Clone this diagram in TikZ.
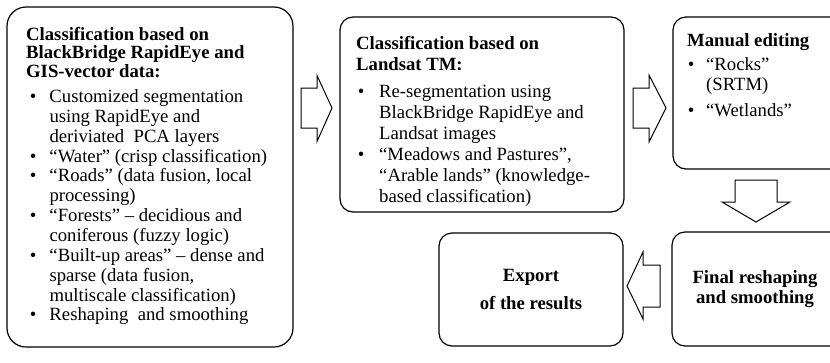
\documentclass[tikz,border=0pt]{standalone}
\usepackage{fontspec}
\setmainfont{Liberation Serif}
\newcommand\bitem[2]{\hbox{\hbox to #1{\textbullet\hss}#2}}
\newcommand\citem[2]{\hbox{\kern#1\relax #2}}
\begin{document}
\begin{tikzpicture}[x=1pt,y=-1pt,
  box/.style={draw, line width=1.2pt, inner sep=0pt, rounded corners=13pt},
  txt/.style={inner sep=0pt, anchor=base west, font=\fontsize{18.7}{20}\selectfont},
  ctxt/.style={inner sep=0pt, anchor=base, font=\fontsize{18.7}{20}\selectfont\bfseries},
  blockarrow/.style={draw, line width=1pt, line join=miter}
]
\useasboundingbox (0,0) rectangle (830,362);
\clip (0,0) rectangle (830,362);

% boxes
\node[box, rounded corners=19pt, minimum width=286pt, minimum height=340pt] (b1) at (150,177) {};
\node[box, minimum width=284pt, minimum height=195pt] (b2) at (482,114.5) {};
\node[box, minimum width=190pt, minimum height=152pt] (b3) at (768,93) {};
\node[box, minimum width=190pt, minimum height=114pt] (b4) at (767,289) {};
\node[box, minimum width=184pt, minimum height=113pt] (b5) at (531,289.5) {};

% box 1 text
\node[txt, font=\fontsize{18.7}{20}\selectfont\bfseries] (t1) at (26,40) {\vtop{\baselineskip=18.5pt
  \hbox{Classification based on}\hbox{BlackBridge RapidEye and}\hbox{GIS-vector data:}}};
\node[txt] (l1) at (29.7,102.5) {\vtop{\baselineskip=19.85pt
  \bitem{19.6pt}{Customized segmentation}
  \citem{19.6pt}{using RapidEye and}
  \citem{19.6pt}{deriviated\ \ PCA layers}
  \bitem{19.6pt}{“Water” (crisp classification)}
  \bitem{19.6pt}{“Roads” (data fusion, local}
  \citem{19.6pt}{processing)}
  \bitem{19.6pt}{“Forests” – decidious and}
  \citem{19.6pt}{coniferous (fuzzy logic)}
  \bitem{19.6pt}{“Built-up areas” – dense and}
  \citem{19.6pt}{sparse (data fusion,}
  \citem{19.6pt}{multiscale classification)}
  \bitem{19.6pt}{Reshaping\ \ and smoothing}}};

% box 2 text
\node[txt, font=\fontsize{18.7}{20}\selectfont\bfseries] (t2) at (356,49.3) {\vtop{\baselineskip=20.7pt
  \hbox{Classification based on}\hbox{Landsat TM:}}};
\node[txt] (l2) at (357.7,97) {\vtop{\baselineskip=21pt
  \bitem{21.3pt}{Re-segmentation using}
  \citem{21.3pt}{BlackBridge RapidEye and}
  \citem{21.3pt}{Landsat images}
  \bitem{21.3pt}{“Meadows and Pastures”,}
  \citem{21.3pt}{“Arable lands” (knowledge-}
  \citem{21.3pt}{based classification)}}};

% box 3 text
\node[txt, font=\fontsize{18.7}{20}\selectfont\bfseries] (t3) at (687,46) {Manual editing};
\node[txt] (l3) at (687.7,70) {\vtop{\baselineskip=20pt
  \bitem{18.3pt}{“Rocks”}
  \citem{18.3pt}{(SRTM)}
  \vskip 6pt
  \bitem{18.3pt}{“Wetlands”}}};

% box 4 and 5 text
\node[ctxt] (t4) at (755,283) {\vtop{\baselineskip=20pt\halign{\hfil#\hfil\cr Final reshaping\cr and smoothing\cr}}};
\node[ctxt] (t5) at (531,281) {\vtop{\baselineskip=28pt\halign{\hfil#\hfil\cr Export\cr of the results\cr}}};

% block arrows
\draw[blockarrow] (301,88) -- (317,88) -- (317,75.5) -- (332,108) -- (317,141.5) -- (317,128) -- (301,128) -- cycle;
\draw[blockarrow] (633,88) -- (649,88) -- (649,75) -- (666,108) -- (649,142) -- (649,128) -- (633,128) -- cycle;
\draw[blockarrow] (735,180) -- (777,180) -- (777,202) -- (790,202) -- (756,222) -- (722,202) -- (735,202) -- cycle;
\draw[blockarrow] (660,265) -- (660,307) -- (643,307) -- (643,319) -- (627,286) -- (643,252) -- (643,265) -- cycle;
\end{tikzpicture}
\end{document}
